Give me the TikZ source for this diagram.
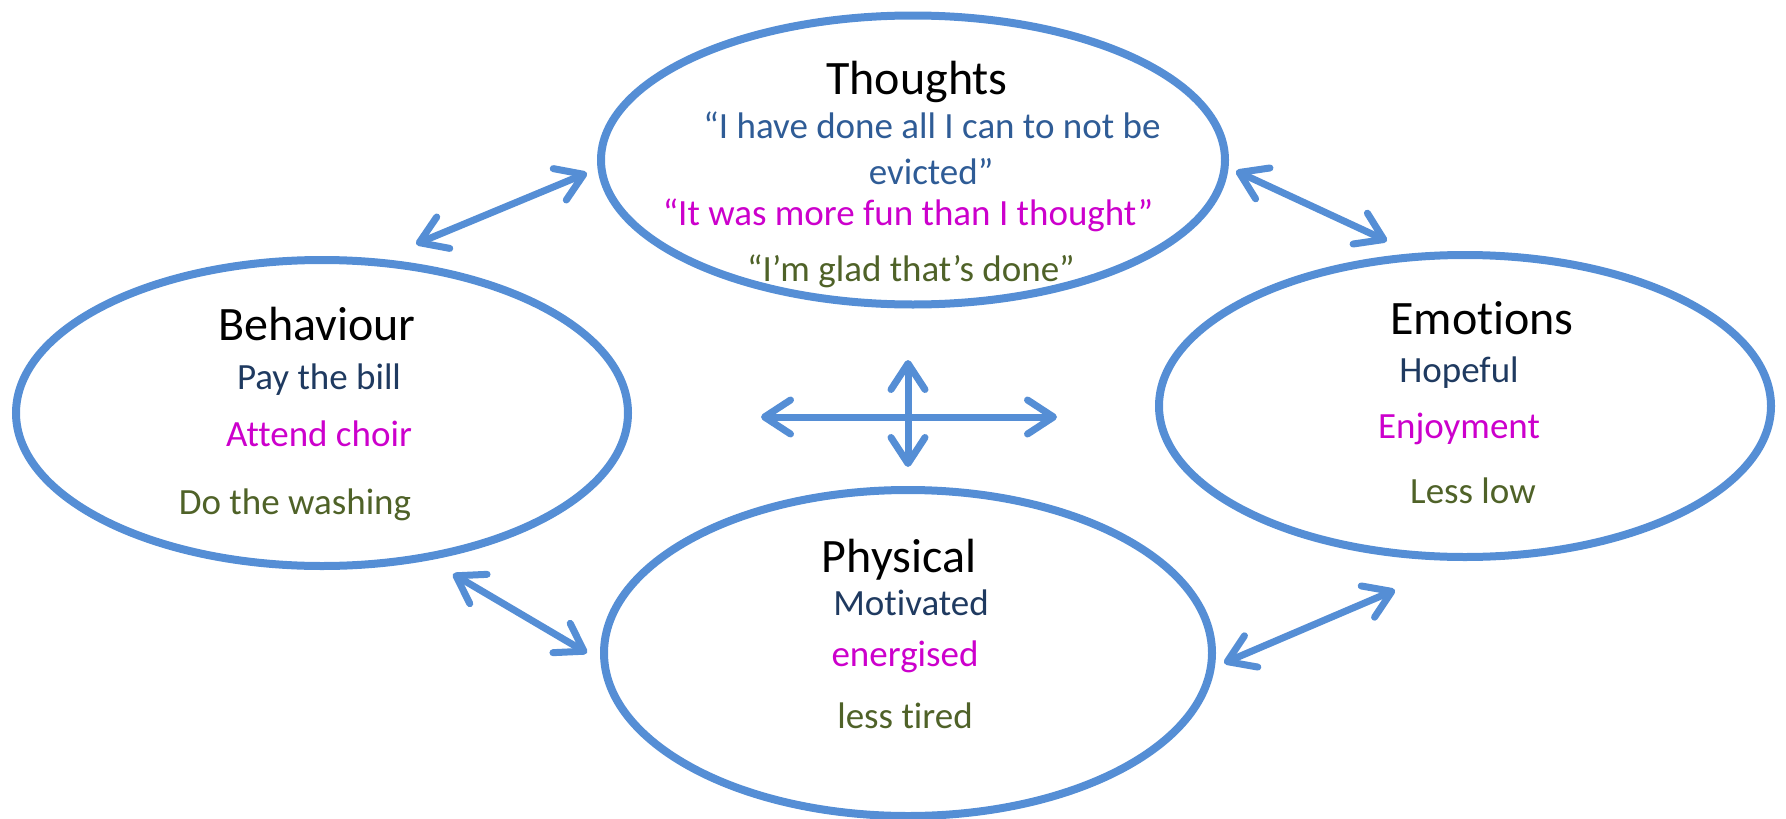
\documentclass[tikz,border=0pt]{standalone}
\usepackage{fontspec}
\setmainfont[Ligatures=NoCommon]{Carlito}
\usetikzlibrary{shapes.geometric,arrows.meta}
\definecolor{ringblue}{HTML}{558ED5}
\definecolor{quoteblue}{HTML}{2F5C96}
\definecolor{navy}{HTML}{1F3A60}
\definecolor{mauve}{HTML}{CC00CC}
\definecolor{olive}{HTML}{4F6228}
\tikzset{
  ring/.style={ellipse, draw=ringblue, line width=8pt, inner sep=0pt},
  heading/.style={anchor=mid, inner sep=0pt, font=\fontsize{48}{58}\selectfont},
  item/.style={anchor=mid, inner sep=0pt, font=\fontsize{37}{45}\selectfont},
  link/.style={draw=ringblue, line width=7pt, line cap=round,
    {Straight Barb[length=26pt, width=34pt, round]}-{Straight Barb[length=26pt, width=34pt, round]}}
}
\begin{document}
\begin{tikzpicture}[x=1pt, y=-1pt]
\useasboundingbox (0,0) rectangle (1786,819);

% the four areas
\node[ring, minimum width=624pt, minimum height=289pt] (thoughts) at (913,160) {};
\node[ring, minimum width=612pt, minimum height=306pt] (behaviour) at (322,413) {};
\node[ring, minimum width=612pt, minimum height=302pt] (emotions) at (1465,406) {};
\node[ring, minimum width=608pt, minimum height=326pt] (physical) at (908,653) {};

% Thoughts
\node[heading] (tT) at (917,92) {Thoughts};
\node[item, text=quoteblue] (t1) at (932,136) {“I have done all I can to not be};
\node[item, text=quoteblue] (t2) at (931,182) {evicted”};
\node[item, text=mauve] (t3) at (908,223) {“It was more fun than I thought”};
\node[item, text=olive] (t4) at (911,279) {“I’m glad that’s done”};

% Behaviour
\node[heading] (bT) at (317,338) {Behaviour};
\node[item, text=navy] (b1) at (319,387) {Pay the bill};
\node[item, text=mauve] (b2) at (319,444) {Attend choir};
\node[item, text=olive] (b3) at (295,512) {Do the washing};

% Emotions
\node[heading] (eT) at (1482,332) {Emotions};
\node[item, text=navy] (e1) at (1459,380) {Hopeful};
\node[item, text=mauve] (e2) at (1459,436) {Enjoyment};
\node[item, text=olive] (e3) at (1473,501) {Less low};

% Physical
\node[heading] (pT) at (899,570) {Physical};
\node[item, text=navy] (p1) at (911,613) {Motivated};
\node[item, text=mauve] (p2) at (905,664) {energised};
\node[item, text=olive] (p3) at (905,726) {less tired};

% ends of the links between the areas
\coordinate (tbA) at (416,244); \coordinate (tbB) at (587,173);
\coordinate (teA) at (1236,171); \coordinate (teB) at (1387,241);
\coordinate (bpA) at (453,574); \coordinate (bpB) at (587,653);
\coordinate (peA) at (1224,663); \coordinate (peB) at (1395,590);
\coordinate (cL) at (761,417); \coordinate (cR) at (1057,417);
\coordinate (cT) at (908,360); \coordinate (cB) at (908,467);

\draw[link] (tbA) -- (tbB);
\draw[link] (teA) -- (teB);
\draw[link] (bpA) -- (bpB);
\draw[link] (peA) -- (peB);
\draw[link] (cL) -- (cR);
\draw[link] (cT) -- (cB);
\end{tikzpicture}
\end{document}
